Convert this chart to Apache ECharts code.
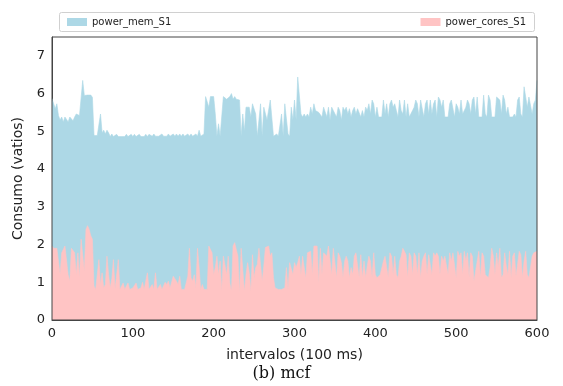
<!DOCTYPE html>
<html>
<head>
<meta charset="utf-8">
<script src="https://cdn.jsdelivr.net/npm/echarts@6/dist/echarts.min.js"></script>
<style>html,body{margin:0;padding:0;background:#fff}#c{width:563px;height:386px}</style>
</head>
<body>
<div id="c"></div>
<script>
// Sample step (intervals of 100 ms) between consecutive readings
const STEP = 2;
const xTicks = [0, 100, 200, 300, 400, 500, 600];
const yTicks = [0, 1, 2, 3, 4, 5, 6, 7];
const seriesNames = ['power_mem_S1', 'power_cores_S1'];

const powerMem = [
5.87,5.87,5.6,5.73,5.42,5.3,5.38,5.25,5.38,5.38,
5.25,5.38,5.38,5.28,5.38,5.46,5.46,5.42,5.46,6.35,
5.95,5.9,5.96,5.99,5.96,5.9,4.89,4.93,4.89,4.86,
5.46,4.96,5.03,4.93,5.03,4.96,4.86,4.93,4.86,4.86,
4.92,4.86,4.86,4.86,4.86,4.86,4.92,4.86,4.86,4.92,
4.86,4.92,4.86,4.86,4.92,4.86,4.86,4.86,4.92,4.86,
4.92,4.87,4.87,4.93,4.87,4.87,4.87,4.87,4.93,4.87,
4.87,4.87,4.93,4.87,4.87,4.93,4.87,4.93,4.87,4.93,
4.87,4.93,4.87,4.87,4.93,4.87,4.93,4.87,4.87,4.93,
4.87,5.03,4.87,4.87,4.93,5.92,5.92,5.64,5.92,5.92,
5.92,5.46,4.87,5.2,4.87,4.87,5.92,5.92,5.85,5.85,
5.92,6.0,5.85,5.92,5.85,5.83,5.83,4.87,5.46,5.0,
5.64,5.64,5.64,5.38,5.73,5.73,5.46,4.87,4.87,5.73,
4.87,5.64,5.64,5.3,5.3,5.83,5.83,4.87,4.87,4.93,
4.87,4.87,5.46,4.87,5.73,5.73,4.93,4.87,5.64,5.3,
5.83,5.3,6.44,6.44,5.46,5.38,5.46,5.38,5.46,5.38,
5.64,5.46,5.73,5.55,5.55,5.5,5.55,5.38,5.64,5.64,
5.38,5.64,5.3,5.64,5.55,5.6,5.38,5.64,5.55,5.3,
5.64,5.55,5.64,5.46,5.6,5.38,5.55,5.64,5.46,5.6,
5.55,5.38,5.55,5.38,5.64,5.55,5.73,5.46,5.83,5.73,
5.38,5.64,5.38,5.42,5.38,5.83,5.46,5.73,5.38,5.73,
5.83,5.64,5.73,5.55,5.38,5.83,5.55,5.46,5.83,5.38,
5.73,5.38,5.38,5.55,5.64,5.83,5.73,5.38,5.83,5.83,
5.38,5.73,5.83,5.46,5.83,5.46,5.73,5.83,5.38,5.91,
5.83,5.64,5.83,5.38,5.38,5.38,5.73,5.83,5.83,5.38,
5.73,5.64,5.46,5.83,5.46,5.46,5.64,5.83,5.73,5.46,
5.83,5.91,5.46,5.91,5.38,5.38,5.38,5.96,5.46,5.38,
5.96,5.83,5.38,5.38,5.38,5.91,5.91,5.83,5.46,5.96,
5.83,5.46,5.64,5.38,5.38,5.38,5.46,5.38,5.83,5.91,
5.46,5.38,6.18,5.91,5.64,5.91,5.91,5.46,5.73,5.83,
6.35
];

const powerCores = [
1.96,1.9,1.9,1.9,1.9,1.21,1.78,1.78,1.96,1.96,
1.2,1.03,1.9,1.85,1.78,1.2,1.78,1.12,2.14,2.14,
1.3,2.4,2.5,2.4,2.23,2.14,0.9,0.81,0.81,1.6,
0.94,1.25,0.85,0.94,1.69,1.2,0.85,1.1,1.6,0.81,
0.85,1.6,0.81,0.81,0.98,0.81,0.85,0.98,0.81,0.81,
0.85,0.81,0.98,0.81,0.81,0.85,1.0,0.81,0.85,1.25,
0.81,0.85,0.94,0.81,1.25,0.81,0.77,0.94,0.81,0.85,
1.0,0.94,1.03,0.85,0.81,1.16,1.16,1.03,0.94,1.16,
0.81,0.85,0.81,0.81,1.16,1.9,1.12,1.03,1.2,0.85,
1.9,1.39,0.81,0.94,0.81,0.85,0.81,1.96,1.96,1.78,
1.2,1.39,1.69,1.2,1.56,0.77,1.69,1.69,1.2,1.69,
0.98,0.77,1.96,2.05,2.05,1.69,0.72,1.9,1.9,0.77,
1.2,1.52,1.25,0.77,1.73,1.12,1.39,1.47,1.9,1.9,
1.03,1.43,1.92,1.92,1.96,1.69,1.78,1.12,0.85,0.81,
0.81,0.77,0.81,0.81,0.85,1.39,0.81,1.52,1.52,1.2,
1.52,1.39,1.52,1.69,1.2,1.69,1.69,1.1,1.78,1.78,
1.82,1.2,1.96,1.96,1.96,0.98,1.9,1.2,1.78,1.78,
1.69,1.96,1.96,1.2,1.9,1.9,1.12,1.78,1.69,1.52,
1.12,1.56,1.69,1.56,1.12,1.39,1.2,1.69,1.78,1.78,
1.12,1.73,1.12,1.56,1.12,1.43,1.69,1.56,1.12,1.78,
1.2,1.12,1.12,1.2,1.2,1.56,1.69,1.73,1.12,1.78,
1.69,1.2,1.69,1.2,1.12,1.56,1.69,1.9,1.82,1.73,
1.12,1.78,1.69,1.2,1.78,1.69,1.2,1.78,1.12,1.56,
1.69,1.78,1.2,1.73,1.78,1.2,1.78,1.69,1.78,1.69,
1.2,1.69,1.56,1.69,1.69,1.2,1.78,1.56,1.78,1.73,
1.12,1.82,1.69,1.78,1.2,1.82,1.56,1.78,1.12,1.78,
1.69,1.03,1.08,1.56,1.82,1.12,1.78,1.69,1.2,1.16,
1.12,1.39,1.9,1.69,1.2,1.78,1.39,1.9,1.12,1.2,
1.78,1.43,1.2,1.82,1.12,1.69,1.78,1.16,1.12,1.82,
1.73,1.12,1.56,1.82,1.2,1.12,1.1,1.69,1.78,1.82,
1.82
];

const memColor = '#add8e6';
const coresColor = '#ffc4c4';
const font = 'DejaVu Sans';

function pairs(vals) { return vals.map((v, k) => [k * STEP, v]); }

const chart = echarts.init(document.getElementById('c'), null, {renderer: 'canvas'});
chart.setOption({
  animation: false,
  backgroundColor: '#fff',
  grid: {left: 52, right: 26, top: 37, bottom: 66, show: true, borderColor: '#444', borderWidth: 1, backgroundColor: 'transparent', z: 10},
  legend: [
    {data: [seriesNames[0]], left: 62, top: 12, itemWidth: 20, itemHeight: 8, itemGap: 8,
     textStyle: {fontFamily: font, fontSize: 10, color: '#222'}, icon: 'rect'},
    {data: [seriesNames[1]], right: 32, top: 12, itemWidth: 20, itemHeight: 8, itemGap: 8,
     textStyle: {fontFamily: font, fontSize: 10, color: '#222'}, icon: 'rect'}
  ],
  graphic: [
    {type: 'rect', left: 57, top: 10, shape: {width: 475, height: 19, r: 2}, style: {fill: 'none', stroke: '#d0d0d0', lineWidth: 1}, z: 1},
    {type: 'text', left: 'center', top: 366, style: {text: '(b) mcf', font: '16px "DejaVu Serif"', fill: '#111'}}
  ],
  xAxis: {
    type: 'value', min: xTicks[0], max: xTicks[xTicks.length - 1], interval: 100,
    name: 'intervalos (100 ms)', nameLocation: 'middle', nameGap: 28,
    nameTextStyle: {fontFamily: font, fontSize: 14, color: '#222'},
    axisLine: {show: true, lineStyle: {color: '#444'}}, axisTick: {show: false}, splitLine: {show: false},
    axisLabel: {fontFamily: font, fontSize: 13, color: '#222', margin: 7}
  },
  yAxis: {
    type: 'value', min: 0, max: 7.5, interval: 1,
    name: 'Consumo (vatios)', nameLocation: 'middle', nameGap: 23,
    nameTextStyle: {fontFamily: font, fontSize: 14, color: '#222'},
    axisLine: {show: true, lineStyle: {color: '#444'}}, axisTick: {show: false}, splitLine: {show: false},
    axisLabel: {fontFamily: font, fontSize: 13, color: '#222', margin: 7,
      formatter: v => (yTicks.indexOf(v) >= 0 ? String(v) : '')}
  },
  series: [
    {name: seriesNames[0], type: 'line', data: pairs(powerMem), showSymbol: false, symbol: 'none',
     itemStyle: {color: memColor}, lineStyle: {color: memColor, width: 0.6}, areaStyle: {color: memColor, opacity: 1}, z: 2},
    {name: seriesNames[1], type: 'line', data: pairs(powerCores), showSymbol: false, symbol: 'none',
     itemStyle: {color: coresColor}, lineStyle: {color: coresColor, width: 0.6}, areaStyle: {color: coresColor, opacity: 1}, z: 3}
  ]
});
</script>
</body>
</html>
